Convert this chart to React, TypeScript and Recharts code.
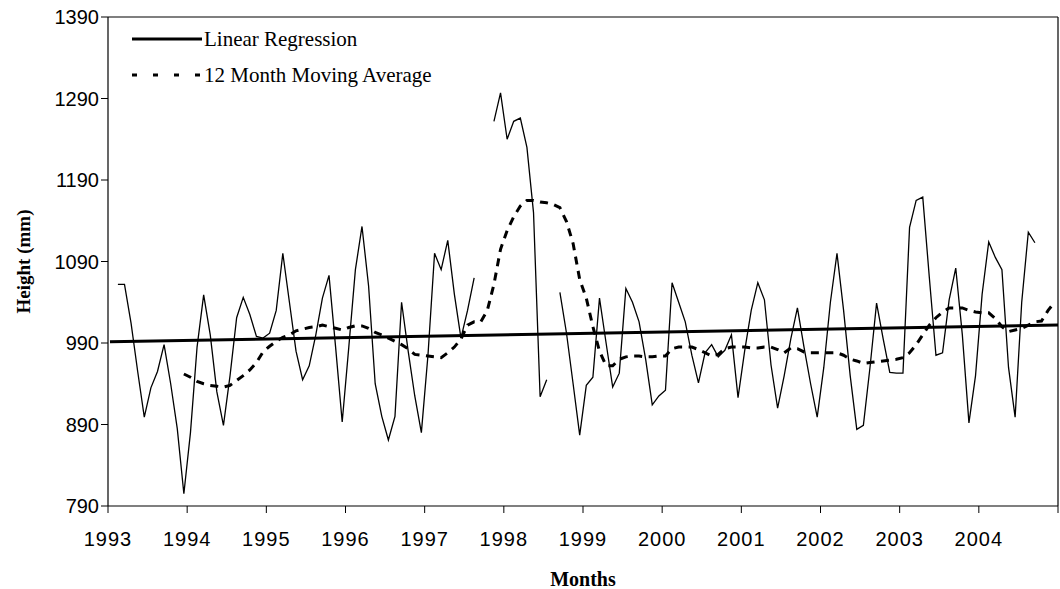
import React from 'react';
import { LineChart, Line, XAxis, YAxis, Legend, ReferenceLine } from 'recharts';

// Year tick labels (x axis, one tick per January)
const yearLabels = ['1993', '1994', '1995', '1996', '1997', '1998', '1999', '2000', '2001', '2002', '2003', '2004', ''];
const yTicks = [790, 890, 990, 1090, 1190, 1290, 1390];

// Monthly heights (mm), Jan 1993 .. Dec 2004 (null = no data)
const monthlyHeight: (number | null)[] = [
  // 1993
  null, 1062, 1062, 1014, 955, 899, 935, 955, 988, 940, 885, 805,
  // 1994
  880, 985, 1049, 1000, 930, 889, 950, 1021, 1046, 1025, 998, 996,
  // 1995
  1002, 1030, 1100, 1040, 980, 945, 962, 1000, 1045, 1073, 985, 893,
  // 1996
  985, 1080, 1133, 1060, 940, 900, 871, 900, 1040, 980, 925, 880,
  // 1997
  975, 1100, 1080, 1116, 1050, 996, 1030, 1070, null, null, 1262, 1297,
  // 1998
  1240, 1262, 1266, 1230, 1150, 924, 945, null, 1052, 1002, 940, 877,
  // 1999
  938, 948, 1045, 990, 936, 953, 1057, 1040, 1016, 970, 914, 925,
  // 2000
  932, 1064, 1040, 1016, 975, 941, 978, 988, 973, 981, 1000, 923,
  // 2001
  980, 1030, 1064, 1043, 963, 910, 950, 995, 1033, 985, 940, 899,
  // 2002
  960, 1040, 1100, 1030, 950, 884, 889, 960, 1039, 995, 954, 953,
  // 2003
  953, 1132, 1165, 1169, 1070, 975, 978, 1043, 1082, 1000, 892, 950,
  // 2004
  1050, 1114, 1095, 1080, 960, 899, 1040, 1126, 1113, null, null, null,
];

// 12 month moving average (mm), same months (null before first full year)
const movingAverage: (number | null)[] = [
  // 1993
  null, null, null, null, null, null, null, null, null, null, null, 952,
  // 1994
  948, 943, 940, 938, 937, 936, 938, 944, 950, 957, 966, 979,
  // 1995
  986, 992, 997, 1000, 1005, 1007, 1009, 1010, 1012, 1010, 1008, 1006,
  // 1996
  1009, 1011, 1011, 1008, 1003, 1000, 996, 992, 988, 983, 976, 975,
  // 1997
  974, 973, 972, 978, 985, 995, 1012, 1016, 1016, 1030, 1062, 1105,
  // 1998
  1128, 1145, 1158, 1165, 1165, 1163, 1162, 1160, 1156, 1139, 1112, 1068,
  // 1999
  1045, 1010, 980, 962, 962, 970, 973, 974, 974, 973, 973, 974,
  // 2000
  974, 983, 985, 985, 985, 982, 978, 974, 976, 983, 985, 985,
  // 2001
  985, 984, 984, 985, 985, 982, 978, 984, 983, 979, 978, 978,
  // 2002
  978, 978, 978, 975, 970, 968, 965, 966, 967, 968, 969, 970,
  // 2003
  972, 978, 988, 1000, 1012, 1021, 1028, 1033, 1033, 1033, 1030, 1028,
  // 2004
  1027, 1027, 1020, 1010, 1004, 1006, 1008, 1012, 1016, 1017, 1030, 1040,
];

// Linear regression end points (month position, height)
const regressionMonths = [0.3, 144];
const regressionHeights = [991.5, 1012];

const chartData = monthlyHeight.map((h, i) => ({
  m: i + 0.5,
  height: h,
  avg: movingAverage[i],
}));
const regressionData = regressionMonths.map((m, i) => ({ m, reg: regressionHeights[i] }));
const xTicks = yearLabels.map((_, i) => i * 12);

const serif = '"Liberation Serif", "Times New Roman", serif';
const sans = '"Liberation Sans", Arial, sans-serif';

const renderLegend = () => (
  <svg width={380} height={64} style={{ display: 'block' }}>
    <line x1={2} y1={13} x2={72} y2={13} stroke="#000" strokeWidth={3} />
    <text x={74} y={13} dominantBaseline="central" fontFamily={serif} fontSize={21} fill="#000">
      Linear Regression
    </text>
    <line x1={2} y1={49} x2={72} y2={49} stroke="#000" strokeWidth={3} strokeDasharray="5 16" />
    <text x={74} y={49} dominantBaseline="central" fontFamily={serif} fontSize={21} fill="#000">
      12 Month Moving Average
    </text>
  </svg>
);

export default function App() {
  return (
    <div style={{ position: 'absolute', left: 0, top: 0, width: 1060, height: 589, background: '#fff' }}>
      <LineChart
        width={1060}
        height={589}
        data={chartData}
        margin={{ top: 17, right: 2, bottom: 0, left: 0 }}
      >
        <XAxis
          dataKey="m"
          type="number"
          domain={[0, 144]}
          ticks={xTicks}
          tickFormatter={(v: number) => yearLabels[Math.round(v / 12)] ?? ''}
          tickSize={7}
          tickMargin={19}
          height={83}
          allowDataOverflow
          axisLine={{ stroke: '#000', strokeWidth: 1.2 }}
          tickLine={{ stroke: '#000' }}
          tick={{ fill: '#000', fontFamily: sans, fontSize: 20, letterSpacing: 1 }}
          label={{
            value: 'Months',
            position: 'insideBottom',
            offset: 3,
            style: { fontFamily: serif, fontWeight: 'bold', fontSize: 20, fill: '#000' },
          }}
        />
        <YAxis
          domain={[790, 1390]}
          ticks={yTicks}
          width={108}
          tickSize={7}
          tickMargin={2}
          allowDataOverflow
          axisLine={{ stroke: '#000', strokeWidth: 1.2 }}
          tickLine={{ stroke: '#000' }}
          tick={{ fill: '#000', fontFamily: sans, fontSize: 20 }}
          label={{
            value: 'Height (mm)',
            angle: -90,
            position: 'insideLeft',
            offset: 23,
            style: { textAnchor: 'middle', fontFamily: serif, fontWeight: 'bold', fontSize: 19, fill: '#000' },
          }}
        />
        <ReferenceLine y={1390} stroke="#000" strokeWidth={1.2} ifOverflow="extendDomain" />
        <ReferenceLine x={144} stroke="#000" strokeWidth={1.2} ifOverflow="extendDomain" />
        <Legend
          layout="horizontal"
          verticalAlign="middle"
          align="center"
          content={renderLegend}
          wrapperStyle={{ left: 130, top: 26, width: 380, height: 64 }}
        />
        <Line
          type="linear"
          dataKey="height"
          stroke="#000"
          strokeWidth={1.3}
          dot={false}
          connectNulls={false}
          isAnimationActive={false}
          legendType="none"
        />
        <Line
          type="linear"
          dataKey="avg"
          stroke="#000"
          strokeWidth={3}
          strokeDasharray="8 6.5"
          dot={false}
          connectNulls={false}
          isAnimationActive={false}
        />
        <Line
          type="linear"
          data={regressionData}
          dataKey="reg"
          stroke="#000"
          strokeWidth={3}
          dot={false}
          isAnimationActive={false}
        />
      </LineChart>
    </div>
  );
}
